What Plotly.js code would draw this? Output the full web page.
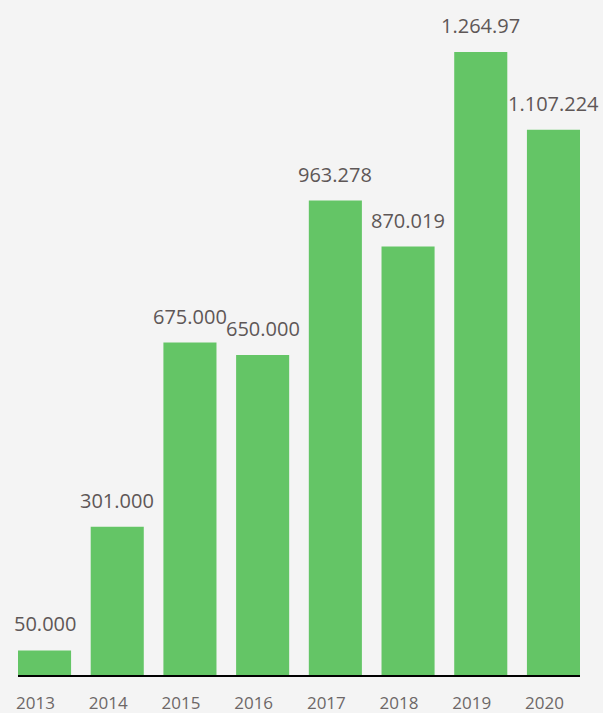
<!DOCTYPE html>
<html>
<head>
<meta charset="utf-8">
<script src="https://cdn.plot.ly/plotly-3.0.1.min.js"></script>
<style>html,body{margin:0;padding:0;background:#f4f4f4;}</style>
</head>
<body>
<div id="chart" style="width:603px;height:713px;"></div>
<script>
const years = ['2013','2014','2015','2016','2017','2018','2019','2020'];
const values = [50000, 301000, 675000, 650000, 963278, 870019, 1264970, 1107224];
const labels = ['50.000','301.000','675.000','650.000','963.278','870.019','1.264.97','1.107.224'];

const trace = {
  type: 'bar',
  x: years,
  y: values,
  marker: {color: '#64c566'},
  width: 0.73,
  hoverinfo: 'none'
};

const annotations = [];
for (let i = 0; i < years.length; i++) {
  annotations.push({
    x: i, y: values[i], text: labels[i],
    xref: 'x', yref: 'y', showarrow: false,
    xanchor: 'center', yanchor: 'bottom', yshift: 11,
    font: {family: 'Open Sans', size: 20, color: '#5e5757'}
  });
}

const layout = {
  width: 603, height: 713,
  margin: {l: 18, r: 23, t: 10, b: 38},
  paper_bgcolor: '#f4f4f4',
  plot_bgcolor: '#f4f4f4',
  showlegend: false,
  xaxis: {
    type: 'category',
    range: [-0.365, 7.365],
    showline: true, linecolor: '#000', linewidth: 2,
    ticks: 'outside', ticklen: 12, tickcolor: 'rgba(0,0,0,0)',
    ticklabelshift: -9,
    tickfont: {family: 'Open Sans', size: 17, color: '#6d6767'},
    showgrid: false, zeroline: false, fixedrange: true
  },
  yaxis: {
    range: [0, 1350300],
    visible: false, showgrid: false, zeroline: false, fixedrange: true
  },
  annotations: annotations
};

Plotly.newPlot('chart', [trace], layout, {displayModeBar: false});
</script>
</body>
</html>
